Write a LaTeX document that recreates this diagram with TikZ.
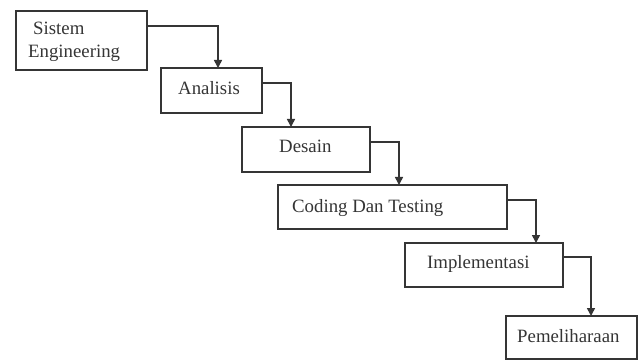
\documentclass[tikz,border=0pt]{standalone}
\usepackage{fontspec}
\setmainfont{Liberation Serif}
\usetikzlibrary{arrows.meta,calc}
\definecolor{ink}{HTML}{353535}
\begin{document}
\begin{tikzpicture}[x=1pt,y=-1pt,
  box/.style={draw=ink,line width=1.8pt,rectangle,inner sep=0pt,outer sep=0pt,anchor=north west,fill=white},
  lbl/.style={anchor=base west,inner sep=0pt,text=ink,font=\fontsize{18.8}{19}\selectfont},
  flow/.style={draw=ink,line width=1.6pt,-{Triangle[length=8pt,width=8pt]}}]
\useasboundingbox[fill=white] (0,0) rectangle (641,361);
\node[box,minimum width=131pt,minimum height=59pt] (b1) at (16,11) {};
\node[box,minimum width=101pt,minimum height=45pt] (b2) at (161,68) {};
\node[box,minimum width=128pt,minimum height=45pt] (b3) at (242,127) {};
\node[box,minimum width=229pt,minimum height=44pt] (b4) at (278,185) {};
\node[box,minimum width=158pt,minimum height=44pt] (b5) at (405,243) {};
\node[box,minimum width=131pt,minimum height=43pt] (b6) at (506,316) {};
\node[lbl] (t1a) at (33,35) {Sistem};
\node[lbl] (t1b) at (28,58) {Engineering};
\node[lbl] (t2) at (178,95) {Analisis};
\node[lbl] (t3) at (279,153) {Desain};
\node[lbl] (t4) at (292,212) {Coding Dan Testing};
\node[lbl] (t5) at (427,268) {Implementasi};
\node[lbl] (t6) at (517,342) {Pemeliharaan};
\draw[flow] ($(b1.north east)+(0,15)$) -| ($(b2.north west)+(57,0)$);
\draw[flow] ($(b2.north east)+(0,15)$) -| ($(b3.north west)+(49,0)$);
\draw[flow] ($(b3.north east)+(0,15)$) -| ($(b4.north west)+(121,0)$);
\draw[flow] ($(b4.north east)+(0,15)$) -| ($(b5.north west)+(131,0)$);
\draw[flow] ($(b5.north east)+(0,14)$) -| ($(b6.north west)+(85,0)$);
\end{tikzpicture}
\end{document}
